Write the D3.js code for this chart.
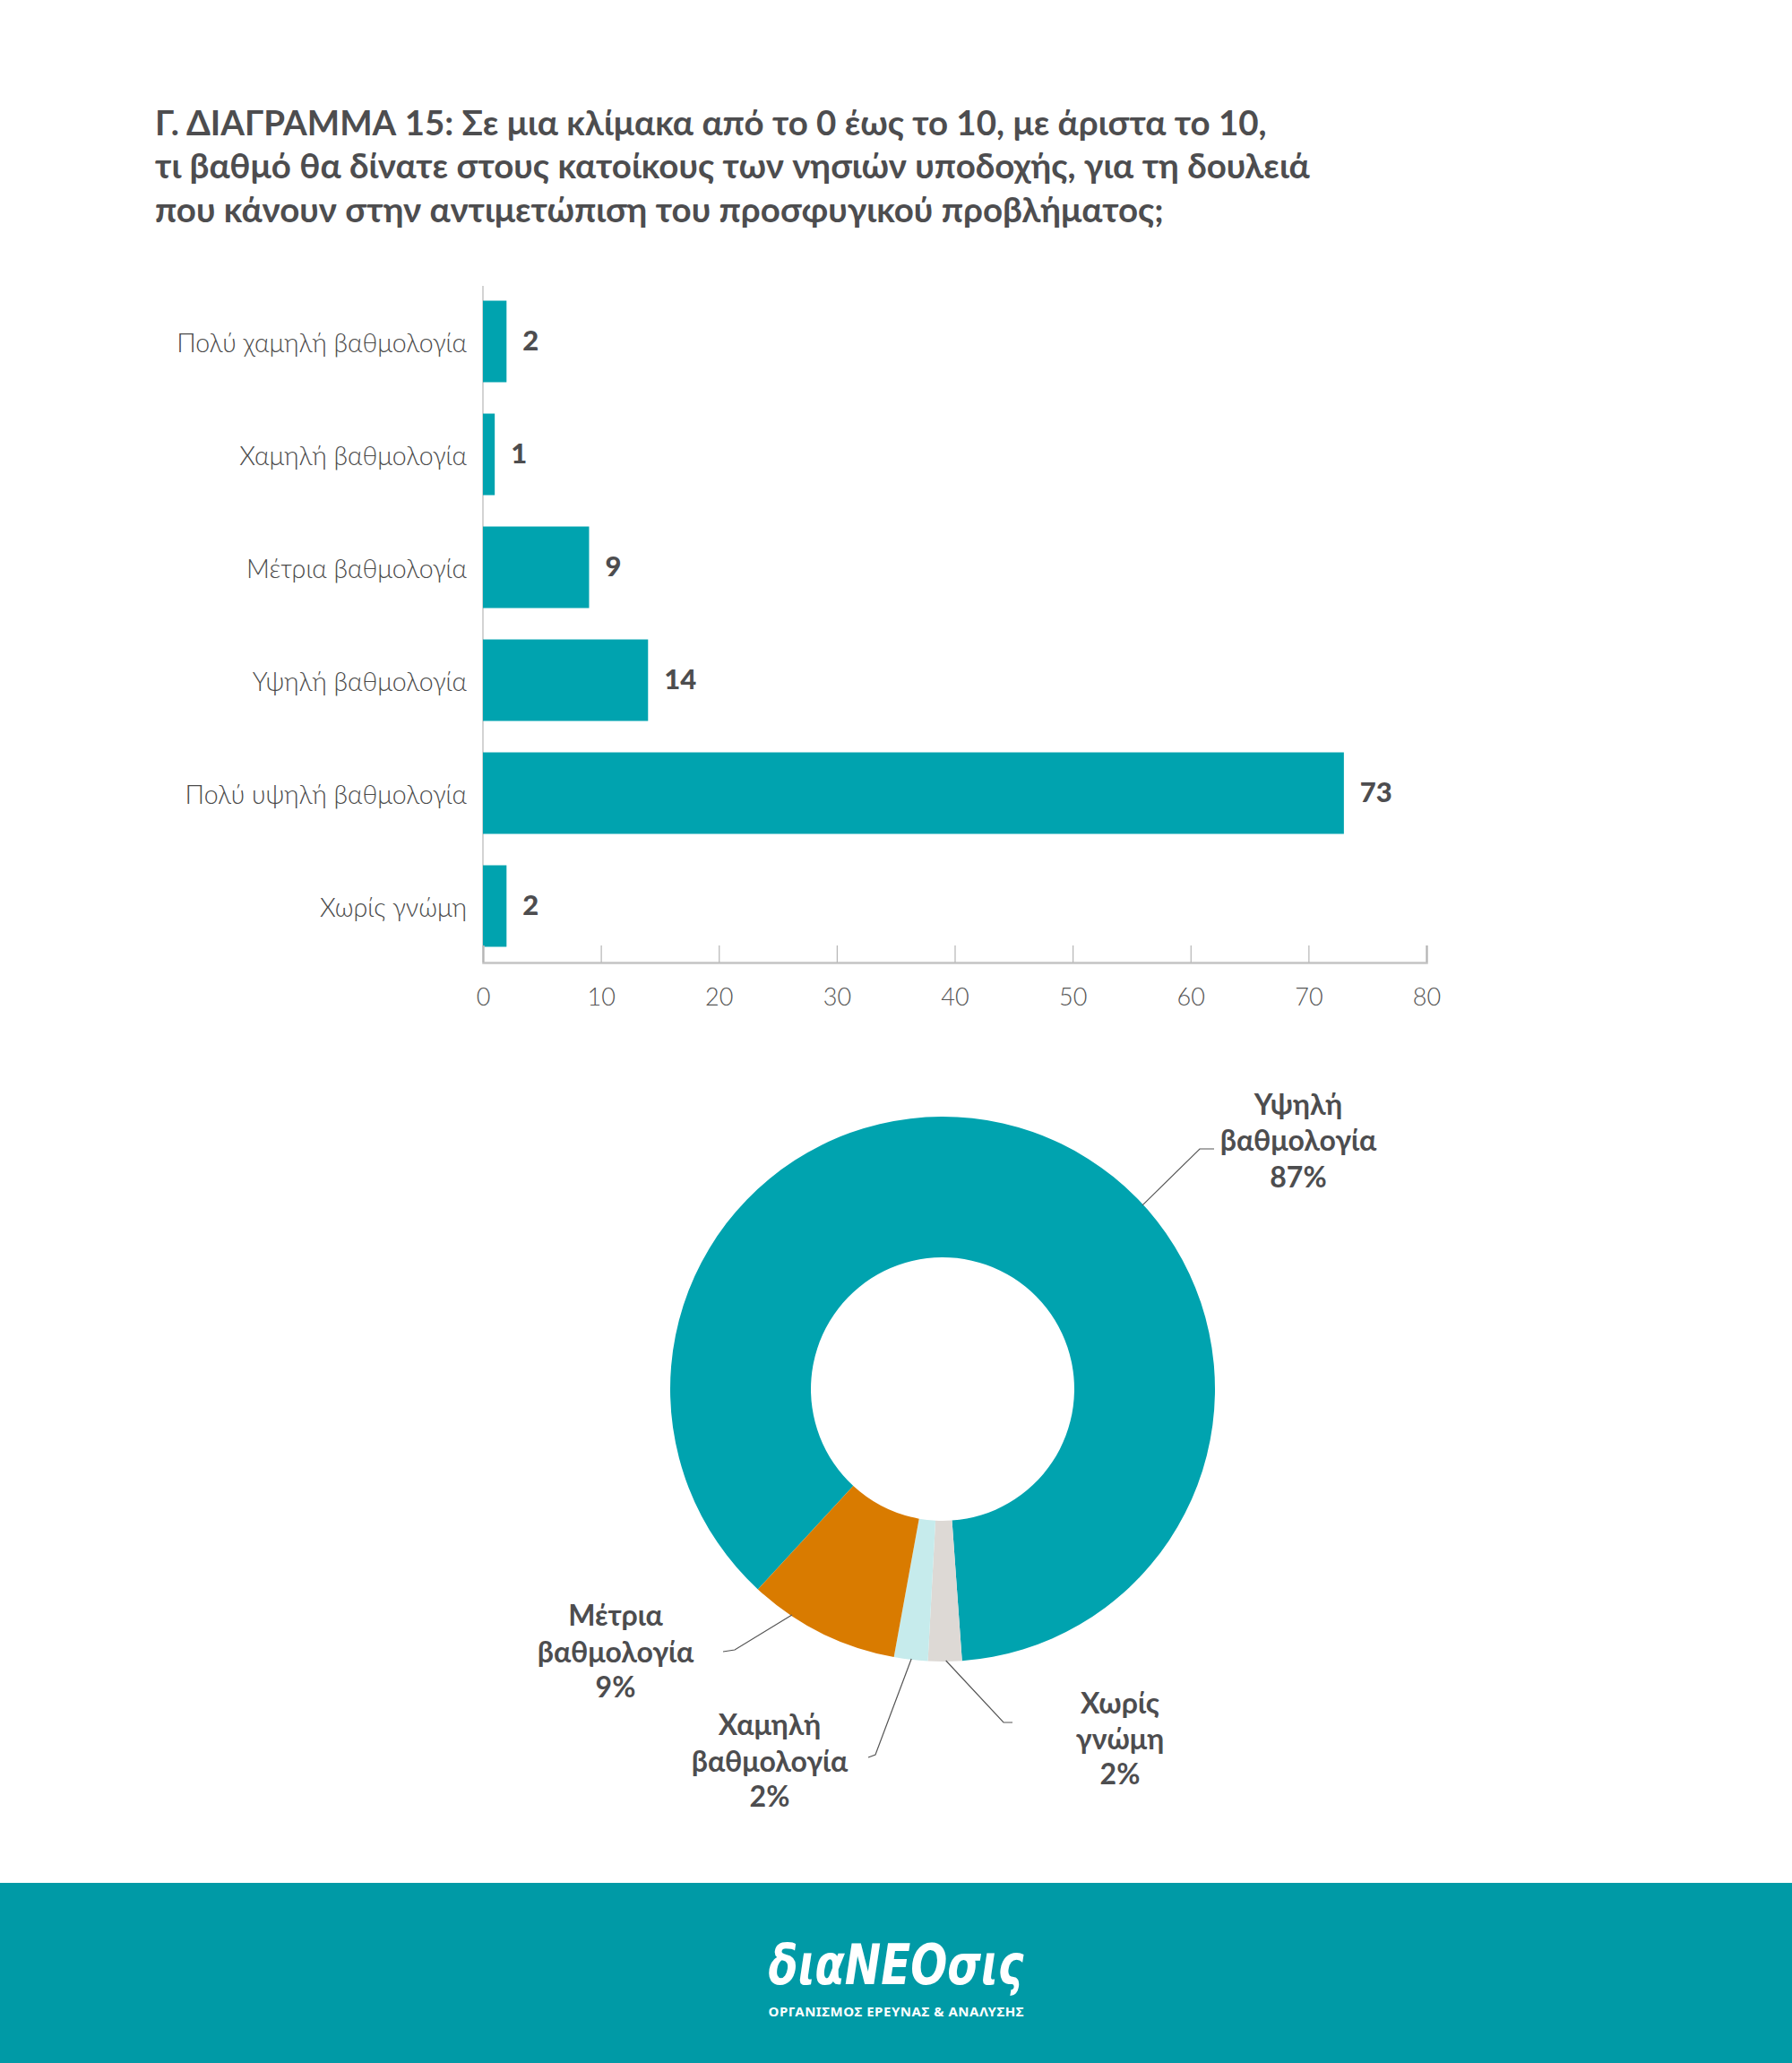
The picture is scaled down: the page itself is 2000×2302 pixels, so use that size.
<!DOCTYPE html>
<html>
<head>
<meta charset="utf-8">
<script src="https://cdn.jsdelivr.net/npm/d3@7"></script>
<style>
  html, body { margin: 0; padding: 0; background: #ffffff; }
  svg { display: block; }
</style>
</head>
<body>
<svg id="chart" width="2000" height="2302"></svg>
<script>
// ---------------- DATA ----------------
const titleLines = [
  "Γ. ΔΙΑΓΡΑΜΜΑ 15: Σε μια κλίμακα από το 0 έως το 10, με άριστα το 10,",
  "τι βαθμό θα δίνατε στους κατοίκους των νησιών υποδοχής, για τη δουλειά",
  "που κάνουν στην αντιμετώπιση του προσφυγικού προβλήματος;"
];
const categories = [
  "Πολύ χαμηλή βαθμολογία",
  "Χαμηλή βαθμολογία",
  "Μέτρια βαθμολογία",
  "Υψηλή βαθμολογία",
  "Πολύ υψηλή βαθμολογία",
  "Χωρίς γνώμη"
];
const values = [2, 1, 9, 14, 73, 2];
const xTicks = [0, 10, 20, 30, 40, 50, 60, 70, 80];

const pieLabels = ["Υψηλή βαθμολογία", "Χωρίς γνώμη", "Χαμηλή βαθμολογία", "Μέτρια βαθμολογία"];
const pieValues = [87, 2, 2, 9];

const logoText = "διαNEOσις";
const logoSub = "ΟΡΓΑΝΙΣΜΟΣ ΕΡΕΥΝΑΣ & ΑΝΑΛΥΣΗΣ";

// ---------------- STYLE / LAYOUT ----------------
const pieColors = ["#00a3af", "#ddd9d5", "#c6ebec", "#d97b00"];
const barColor = "#00a3af";
const textDark = "#4d4d4f";
const footerColor = "#009aa6";

// label layout for donut (anchor angle in degrees clockwise from top; elbow/end/text in page coords)
const pieLabelLayout = [
  { angle: 47.4, elbow: [1339, 1282], end: [1355, 1282], tx: 1449, ty: [1235, 1275, 1316] },
  { angle: 179.3, elbow: [1120, 1922], end: [1130, 1922], tx: 1250, ty: [1903, 1943, 1982] },
  { angle: 186.6, elbow: [977, 1958], end: [969, 1961], tx: 859, ty: [1927, 1968, 2007] },
  { angle: 213.7, elbow: [820, 1841], end: [807, 1843], tx: 687, ty: [1805, 1846, 1885] }
];

const svg = d3.select("#chart");

// ---------------- TITLE ----------------
const titleG = svg.append("g").attr("font-family", "Lato, 'Noto Sans', sans-serif")
  .attr("font-weight", 700).attr("fill", textDark);
const titleBaselines = [151, 199, 248];
const titleEls = titleLines.map((t, i) =>
  titleG.append("text").attr("x", 173).attr("y", titleBaselines[i])
    .attr("font-size", 34).text(t));
const measured = titleEls[1].node().getComputedTextLength();
const fs = 34 * (1289 / measured);
titleEls.forEach(e => e.attr("font-size", fs));

// ---------------- BAR CHART ----------------
const x = d3.scaleLinear().domain([0, 80]).range([539, 1592]);
const y = d3.scaleBand().domain(categories).range([318, 1074])
  .paddingInner(0.278).paddingOuter(0.139);

const barG = svg.append("g");

barG.append("line")
  .attr("x1", x(0)).attr("x2", x(0))
  .attr("y1", 319).attr("y2", 1074)
  .attr("stroke", "#c4c4c4").attr("stroke-width", 1.5);

barG.selectAll("rect.bar").data(values).join("rect")
  .attr("class", "bar")
  .attr("x", x(0))
  .attr("y", (d, i) => y(categories[i]))
  .attr("width", d => x(d) - x(0))
  .attr("height", y.bandwidth())
  .attr("fill", barColor);

barG.selectAll("text.val").data(values).join("text")
  .attr("class", "val")
  .attr("x", d => x(d) + 18)
  .attr("y", (d, i) => y(categories[i]) + y.bandwidth() / 2 + 2)
  .attr("dominant-baseline", "middle")
  .attr("font-family", "Lato, 'Noto Sans', sans-serif")
  .attr("font-weight", 900).attr("font-size", 31)
  .attr("fill", textDark)
  .text(d => d);

barG.selectAll("text.cat").data(categories).join("text")
  .attr("class", "cat")
  .attr("x", 521)
  .attr("y", d => y(d) + y.bandwidth() / 2 + 5)
  .attr("text-anchor", "end")
  .attr("dominant-baseline", "middle")
  .attr("font-family", "Lato, 'Noto Sans', sans-serif")
  .attr("font-weight", 300).attr("font-size", 28.5)
  .attr("fill", "#4a4a4a")
  .text(d => d);

const xAxis = d3.axisBottom(x).tickValues(xTicks).tickSize(-19).tickPadding(28);
const axG = barG.append("g").attr("transform", "translate(0,1074)").call(xAxis);
axG.select(".domain").attr("stroke", "#c4c4c4").attr("stroke-width", 2.5);
axG.selectAll(".tick line").attr("stroke", "#b5b5b5").attr("stroke-width", 1.2);
axG.selectAll(".tick text")
  .attr("font-family", "Lato, 'Noto Sans', sans-serif")
  .attr("font-weight", 300).attr("font-size", 27).attr("fill", "#555")
  .attr("dy", "0.35em").attr("y", 39);

// ---------------- DONUT ----------------
const cx = 1052, cy = 1550, rOuter = 304, rInner = 147;
const startA = 222.7 * Math.PI / 180;
const pie = d3.pie().sort(null).value(d => d).startAngle(startA).endAngle(startA + 2 * Math.PI);
const arcs = pie(pieValues);
const arc = d3.arc().innerRadius(rInner).outerRadius(rOuter);

const pieG = svg.append("g").attr("transform", `translate(${cx},${cy})`);
pieG.selectAll("path").data(arcs).join("path")
  .attr("d", arc)
  .attr("fill", (d, i) => pieColors[i]);

const labG = svg.append("g");
pieLabels.forEach((lab, i) => {
  const L = pieLabelLayout[i];
  const a = L.angle * Math.PI / 180;
  const sx = cx + Math.sin(a) * (rOuter - 1);
  const sy = cy - Math.cos(a) * (rOuter - 1);
  labG.append("polyline")
    .attr("points", [[sx, sy], L.elbow, L.end].map(p => p.join(",")).join(" "))
    .attr("fill", "none").attr("stroke", "#555").attr("stroke-width", 1.2);
  const lines = lab.split(" ").concat([pieValues[i] + "%"]);
  lines.forEach((ln, j) => {
    labG.append("text")
      .attr("x", L.tx).attr("y", L.ty[j] + 1)
      .attr("text-anchor", "middle").attr("dominant-baseline", "middle")
      .attr("font-family", "Lato, 'Noto Sans', sans-serif")
      .attr("font-weight", 700).attr("font-size", 32)
      .attr("fill", textDark)
      .text(ln);
  });
});

// ---------------- FOOTER ----------------
svg.append("rect").attr("x", 0).attr("y", 2101).attr("width", 2000).attr("height", 201)
  .attr("fill", footerColor);
svg.append("text")
  .attr("x", 1000).attr("y", 2214)
  .attr("text-anchor", "middle")
  .attr("font-family", "'DejaVu Sans', sans-serif")
  .attr("font-style", "italic").attr("font-weight", 700)
  .attr("font-size", 62).attr("fill", "#ffffff")
  .attr("textLength", 285).attr("lengthAdjust", "spacingAndGlyphs")
  .text(logoText);
svg.append("text")
  .attr("x", 1000).attr("y", 2250)
  .attr("text-anchor", "middle")
  .attr("font-family", "'Noto Sans', sans-serif")
  .attr("font-weight", 700)
  .attr("font-size", 15).attr("fill", "#ffffff")
  .attr("textLength", 285).attr("lengthAdjust", "spacing")
  .text(logoSub);
</script>
</body>
</html>
